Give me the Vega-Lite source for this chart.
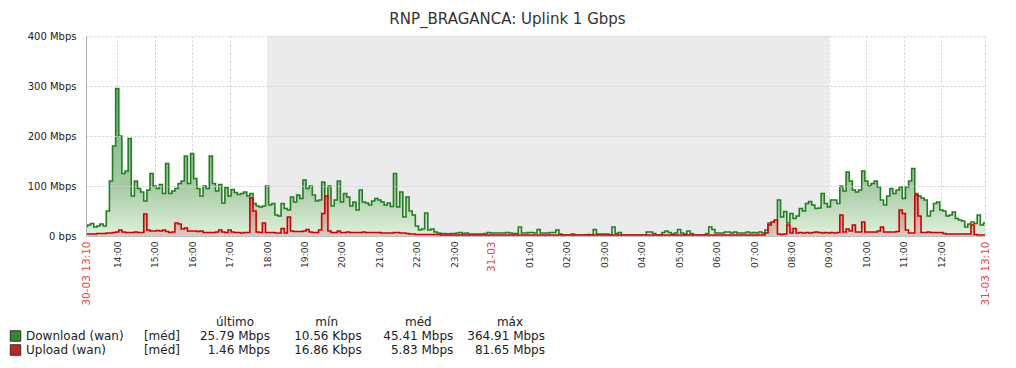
{
  "$schema": "https://vega.github.io/schema/vega-lite/v6.json",
  "width": 899,
  "height": 200,
  "autosize": {"type": "none"},
  "padding": {"left": 86, "top": 36, "right": 31, "bottom": 132},
  "background": "white",
  "title": {"text": "RNP_BRAGANCA: Uplink 1 Gbps", "fontSize": 15, "font": "DejaVu Sans", "fontWeight": "normal", "color": "#333333", "anchor": "middle", "frame": "group", "dx": -28, "offset": 4},
  "config": {
    "font": "DejaVu Sans",
    "view": {"stroke": null},
    "axisX": {"labelOverlap": false, "labelFlush": false, "labelBound": false, "labelAngle": 270, "labelPadding": 5, "ticks": false, "title": null, "domainColor": "#a9b2b8", "gridDash": [2, 2], "zindex": 1, "tickCount": 60}
  },
  "resolve": {"scale": {"x": "independent", "y": "independent", "color": "independent"}, "axis": {"x": "independent", "y": "independent"}},
  "layer": [
    {
      "layer": [
        {
          "data": {"values": [{"inicio": "2023-03-30 18:00", "fim": "2023-03-31 09:00"}], "format": {"parse": {"inicio": "utc:'%Y-%m-%d %H:%M'", "fim": "utc:'%Y-%m-%d %H:%M'"}}},
          "mark": {"type": "rect", "color": "#ebebeb"},
          "encoding": {
            "x": {"field": "inicio", "type": "temporal", "scale": {"type": "utc", "domain": [{"year": 2023, "month": 3, "date": 30, "hours": 13, "minutes": 10, "utc": true}, {"year": 2023, "month": 3, "date": 31, "hours": 13, "minutes": 10, "utc": true}], "nice": false}},
            "x2": {"field": "fim"}
          }
        },
        {
          "data": {
            "format": {"parse": {"t": "utc:'%Y-%m-%d %H:%M'"}},
            "values": [
              {"t":"2023-03-30 13:10","d":19,"u":4},{"t":"2023-03-30 13:15","d":22,"u":4},{"t":"2023-03-30 13:20","d":25,"u":4},{"t":"2023-03-30 13:25","d":18,"u":4},{"t":"2023-03-30 13:30","d":20,"u":5},{"t":"2023-03-30 13:35","d":24,"u":5},{"t":"2023-03-30 13:40","d":20,"u":5},{"t":"2023-03-30 13:45","d":50,"u":6},{"t":"2023-03-30 13:50","d":110,"u":6},{"t":"2023-03-30 13:55","d":180,"u":7},
              {"t":"2023-03-30 14:00","d":295,"u":8},{"t":"2023-03-30 14:05","d":200,"u":12},{"t":"2023-03-30 14:10","d":125,"u":8},{"t":"2023-03-30 14:15","d":130,"u":7},{"t":"2023-03-30 14:20","d":195,"u":7},{"t":"2023-03-30 14:25","d":80,"u":7},{"t":"2023-03-30 14:30","d":110,"u":8},{"t":"2023-03-30 14:35","d":95,"u":7},{"t":"2023-03-30 14:40","d":88,"u":7},{"t":"2023-03-30 14:45","d":70,"u":44},{"t":"2023-03-30 14:50","d":92,"u":12},{"t":"2023-03-30 14:55","d":125,"u":10},
              {"t":"2023-03-30 15:00","d":100,"u":10},{"t":"2023-03-30 15:05","d":95,"u":11},{"t":"2023-03-30 15:10","d":103,"u":10},{"t":"2023-03-30 15:15","d":85,"u":12},{"t":"2023-03-30 15:20","d":145,"u":9},{"t":"2023-03-30 15:25","d":85,"u":7},{"t":"2023-03-30 15:30","d":90,"u":8},{"t":"2023-03-30 15:35","d":95,"u":26},{"t":"2023-03-30 15:40","d":105,"u":24},{"t":"2023-03-30 15:45","d":110,"u":14},{"t":"2023-03-30 15:50","d":160,"u":16},{"t":"2023-03-30 15:55","d":105,"u":10},
              {"t":"2023-03-30 16:00","d":165,"u":10},{"t":"2023-03-30 16:05","d":115,"u":10},{"t":"2023-03-30 16:10","d":95,"u":9},{"t":"2023-03-30 16:15","d":80,"u":10},{"t":"2023-03-30 16:20","d":100,"u":7},{"t":"2023-03-30 16:25","d":95,"u":7},{"t":"2023-03-30 16:30","d":160,"u":7},{"t":"2023-03-30 16:35","d":105,"u":7},{"t":"2023-03-30 16:40","d":90,"u":8},{"t":"2023-03-30 16:45","d":103,"u":12},{"t":"2023-03-30 16:50","d":66,"u":8},{"t":"2023-03-30 16:55","d":97,"u":7},
              {"t":"2023-03-30 17:00","d":80,"u":12},{"t":"2023-03-30 17:05","d":93,"u":8},{"t":"2023-03-30 17:10","d":87,"u":7},{"t":"2023-03-30 17:15","d":83,"u":7},{"t":"2023-03-30 17:20","d":85,"u":6},{"t":"2023-03-30 17:25","d":88,"u":7},{"t":"2023-03-30 17:30","d":80,"u":7},{"t":"2023-03-30 17:35","d":85,"u":76},{"t":"2023-03-30 17:40","d":65,"u":50},{"t":"2023-03-30 17:45","d":60,"u":8},{"t":"2023-03-30 17:50","d":58,"u":7},{"t":"2023-03-30 17:55","d":60,"u":26},
              {"t":"2023-03-30 18:00","d":100,"u":7},{"t":"2023-03-30 18:05","d":62,"u":7},{"t":"2023-03-30 18:10","d":65,"u":7},{"t":"2023-03-30 18:15","d":42,"u":6},{"t":"2023-03-30 18:20","d":40,"u":6},{"t":"2023-03-30 18:25","d":65,"u":15},{"t":"2023-03-30 18:30","d":55,"u":6},{"t":"2023-03-30 18:35","d":52,"u":38},{"t":"2023-03-30 18:40","d":78,"u":10},{"t":"2023-03-30 18:45","d":68,"u":9},{"t":"2023-03-30 18:50","d":82,"u":9},{"t":"2023-03-30 18:55","d":75,"u":9},
              {"t":"2023-03-30 19:00","d":112,"u":10},{"t":"2023-03-30 19:05","d":95,"u":13},{"t":"2023-03-30 19:10","d":100,"u":8},{"t":"2023-03-30 19:15","d":82,"u":7},{"t":"2023-03-30 19:20","d":70,"u":7},{"t":"2023-03-30 19:25","d":72,"u":12},{"t":"2023-03-30 19:30","d":108,"u":45},{"t":"2023-03-30 19:35","d":75,"u":80},{"t":"2023-03-30 19:40","d":100,"u":10},{"t":"2023-03-30 19:45","d":60,"u":7},{"t":"2023-03-30 19:50","d":72,"u":7},{"t":"2023-03-30 19:55","d":110,"u":10},
              {"t":"2023-03-30 20:00","d":68,"u":7},{"t":"2023-03-30 20:05","d":85,"u":7},{"t":"2023-03-30 20:10","d":78,"u":8},{"t":"2023-03-30 20:15","d":60,"u":7},{"t":"2023-03-30 20:20","d":68,"u":7},{"t":"2023-03-30 20:25","d":52,"u":7},{"t":"2023-03-30 20:30","d":92,"u":7},{"t":"2023-03-30 20:35","d":68,"u":8},{"t":"2023-03-30 20:40","d":66,"u":7},{"t":"2023-03-30 20:45","d":62,"u":7},{"t":"2023-03-30 20:50","d":70,"u":7},{"t":"2023-03-30 20:55","d":75,"u":7},
              {"t":"2023-03-30 21:00","d":72,"u":7},{"t":"2023-03-30 21:05","d":68,"u":6},{"t":"2023-03-30 21:10","d":62,"u":6},{"t":"2023-03-30 21:15","d":66,"u":6},{"t":"2023-03-30 21:20","d":59,"u":6},{"t":"2023-03-30 21:25","d":125,"u":7},{"t":"2023-03-30 21:30","d":58,"u":7},{"t":"2023-03-30 21:35","d":88,"u":6},{"t":"2023-03-30 21:40","d":38,"u":6},{"t":"2023-03-30 21:45","d":78,"u":5},{"t":"2023-03-30 21:50","d":50,"u":4},{"t":"2023-03-30 21:55","d":42,"u":4},
              {"t":"2023-03-30 22:00","d":20,"u":3},{"t":"2023-03-30 22:05","d":12,"u":3},{"t":"2023-03-30 22:10","d":14,"u":3},{"t":"2023-03-30 22:15","d":46,"u":3},{"t":"2023-03-30 22:20","d":12,"u":3},{"t":"2023-03-30 22:25","d":14,"u":3},{"t":"2023-03-30 22:30","d":8,"u":3},{"t":"2023-03-30 22:35","d":6,"u":3},{"t":"2023-03-30 22:40","d":5,"u":2},{"t":"2023-03-30 22:45","d":5,"u":2},{"t":"2023-03-30 22:50","d":4,"u":2},{"t":"2023-03-30 22:55","d":5,"u":2},
              {"t":"2023-03-30 23:00","d":5,"u":2},{"t":"2023-03-30 23:05","d":6,"u":2},{"t":"2023-03-30 23:10","d":7,"u":2},{"t":"2023-03-30 23:15","d":5,"u":2},{"t":"2023-03-30 23:20","d":6,"u":2},{"t":"2023-03-30 23:25","d":4,"u":2},{"t":"2023-03-30 23:30","d":4,"u":2},{"t":"2023-03-30 23:35","d":4,"u":2},{"t":"2023-03-30 23:40","d":4,"u":2},{"t":"2023-03-30 23:45","d":4,"u":2},{"t":"2023-03-30 23:50","d":5,"u":2},{"t":"2023-03-30 23:55","d":7,"u":2},
              {"t":"2023-03-31 00:00","d":6,"u":2},{"t":"2023-03-31 00:05","d":6,"u":2},{"t":"2023-03-31 00:10","d":6,"u":2},{"t":"2023-03-31 00:15","d":6,"u":2},{"t":"2023-03-31 00:20","d":6,"u":2},{"t":"2023-03-31 00:25","d":7,"u":2},{"t":"2023-03-31 00:30","d":6,"u":2},{"t":"2023-03-31 00:35","d":5,"u":2},{"t":"2023-03-31 00:40","d":5,"u":2},{"t":"2023-03-31 00:45","d":18,"u":2},{"t":"2023-03-31 00:50","d":6,"u":2},{"t":"2023-03-31 00:55","d":6,"u":2},
              {"t":"2023-03-31 01:00","d":7,"u":2},{"t":"2023-03-31 01:05","d":7,"u":2},{"t":"2023-03-31 01:10","d":6,"u":2},{"t":"2023-03-31 01:15","d":13,"u":2},{"t":"2023-03-31 01:20","d":6,"u":2},{"t":"2023-03-31 01:25","d":6,"u":2},{"t":"2023-03-31 01:30","d":6,"u":2},{"t":"2023-03-31 01:35","d":7,"u":2},{"t":"2023-03-31 01:40","d":7,"u":2},{"t":"2023-03-31 01:45","d":12,"u":2},{"t":"2023-03-31 01:50","d":4,"u":2},{"t":"2023-03-31 01:55","d":2,"u":2},
              {"t":"2023-03-31 02:00","d":2,"u":2},{"t":"2023-03-31 02:05","d":2,"u":2},{"t":"2023-03-31 02:10","d":4,"u":2},{"t":"2023-03-31 02:15","d":2,"u":2},{"t":"2023-03-31 02:20","d":2,"u":2},{"t":"2023-03-31 02:25","d":2,"u":2},{"t":"2023-03-31 02:30","d":2,"u":2},{"t":"2023-03-31 02:35","d":3,"u":2},{"t":"2023-03-31 02:40","d":2,"u":2},{"t":"2023-03-31 02:45","d":13,"u":2},{"t":"2023-03-31 02:50","d":4,"u":2},{"t":"2023-03-31 02:55","d":4,"u":2},
              {"t":"2023-03-31 03:00","d":4,"u":2},{"t":"2023-03-31 03:05","d":4,"u":2},{"t":"2023-03-31 03:10","d":2,"u":2},{"t":"2023-03-31 03:15","d":18,"u":2},{"t":"2023-03-31 03:20","d":5,"u":2},{"t":"2023-03-31 03:25","d":7,"u":2},{"t":"2023-03-31 03:30","d":2,"u":2},{"t":"2023-03-31 03:35","d":2,"u":2},{"t":"2023-03-31 03:40","d":2,"u":2},{"t":"2023-03-31 03:45","d":2,"u":2},{"t":"2023-03-31 03:50","d":2,"u":2},{"t":"2023-03-31 03:55","d":2,"u":2},
              {"t":"2023-03-31 04:00","d":2,"u":2},{"t":"2023-03-31 04:05","d":2,"u":2},{"t":"2023-03-31 04:10","d":8,"u":2},{"t":"2023-03-31 04:15","d":8,"u":2},{"t":"2023-03-31 04:20","d":5,"u":2},{"t":"2023-03-31 04:25","d":2,"u":2},{"t":"2023-03-31 04:30","d":2,"u":2},{"t":"2023-03-31 04:35","d":7,"u":2},{"t":"2023-03-31 04:40","d":10,"u":2},{"t":"2023-03-31 04:45","d":7,"u":2},{"t":"2023-03-31 04:50","d":4,"u":2},{"t":"2023-03-31 04:55","d":6,"u":2},
              {"t":"2023-03-31 05:00","d":13,"u":2},{"t":"2023-03-31 05:05","d":6,"u":2},{"t":"2023-03-31 05:10","d":4,"u":2},{"t":"2023-03-31 05:15","d":10,"u":2},{"t":"2023-03-31 05:20","d":5,"u":2},{"t":"2023-03-31 05:25","d":2,"u":2},{"t":"2023-03-31 05:30","d":2,"u":2},{"t":"2023-03-31 05:35","d":2,"u":2},{"t":"2023-03-31 05:40","d":2,"u":2},{"t":"2023-03-31 05:45","d":5,"u":2},{"t":"2023-03-31 05:50","d":18,"u":2},{"t":"2023-03-31 05:55","d":13,"u":2},
              {"t":"2023-03-31 06:00","d":6,"u":2},{"t":"2023-03-31 06:05","d":6,"u":2},{"t":"2023-03-31 06:10","d":6,"u":2},{"t":"2023-03-31 06:15","d":8,"u":2},{"t":"2023-03-31 06:20","d":8,"u":2},{"t":"2023-03-31 06:25","d":6,"u":2},{"t":"2023-03-31 06:30","d":8,"u":2},{"t":"2023-03-31 06:35","d":6,"u":2},{"t":"2023-03-31 06:40","d":6,"u":2},{"t":"2023-03-31 06:45","d":6,"u":2},{"t":"2023-03-31 06:50","d":8,"u":2},{"t":"2023-03-31 06:55","d":6,"u":2},
              {"t":"2023-03-31 07:00","d":7,"u":2},{"t":"2023-03-31 07:05","d":6,"u":2},{"t":"2023-03-31 07:10","d":8,"u":2},{"t":"2023-03-31 07:15","d":6,"u":2},{"t":"2023-03-31 07:20","d":12,"u":6},{"t":"2023-03-31 07:25","d":26,"u":22},{"t":"2023-03-31 07:30","d":22,"u":28},{"t":"2023-03-31 07:35","d":30,"u":32},{"t":"2023-03-31 07:40","d":72,"u":4},{"t":"2023-03-31 07:45","d":38,"u":3},{"t":"2023-03-31 07:50","d":49,"u":4},{"t":"2023-03-31 07:55","d":26,"u":22},
              {"t":"2023-03-31 08:00","d":45,"u":6},{"t":"2023-03-31 08:05","d":35,"u":15},{"t":"2023-03-31 08:10","d":40,"u":6},{"t":"2023-03-31 08:15","d":55,"u":7},{"t":"2023-03-31 08:20","d":50,"u":6},{"t":"2023-03-31 08:25","d":65,"u":7},{"t":"2023-03-31 08:30","d":69,"u":6},{"t":"2023-03-31 08:35","d":62,"u":7},{"t":"2023-03-31 08:40","d":55,"u":8},{"t":"2023-03-31 08:45","d":56,"u":7},{"t":"2023-03-31 08:50","d":85,"u":6},{"t":"2023-03-31 08:55","d":65,"u":7},
              {"t":"2023-03-31 09:00","d":58,"u":6},{"t":"2023-03-31 09:05","d":72,"u":7},{"t":"2023-03-31 09:10","d":72,"u":6},{"t":"2023-03-31 09:15","d":65,"u":7},{"t":"2023-03-31 09:20","d":100,"u":42},{"t":"2023-03-31 09:25","d":90,"u":8},{"t":"2023-03-31 09:30","d":128,"u":14},{"t":"2023-03-31 09:35","d":110,"u":10},{"t":"2023-03-31 09:40","d":92,"u":22},{"t":"2023-03-31 09:45","d":88,"u":8},{"t":"2023-03-31 09:50","d":92,"u":8},{"t":"2023-03-31 09:55","d":130,"u":28},
              {"t":"2023-03-31 10:00","d":110,"u":8},{"t":"2023-03-31 10:05","d":100,"u":8},{"t":"2023-03-31 10:10","d":105,"u":8},{"t":"2023-03-31 10:15","d":110,"u":8},{"t":"2023-03-31 10:20","d":98,"u":10},{"t":"2023-03-31 10:25","d":72,"u":18},{"t":"2023-03-31 10:30","d":62,"u":8},{"t":"2023-03-31 10:35","d":80,"u":8},{"t":"2023-03-31 10:40","d":95,"u":8},{"t":"2023-03-31 10:45","d":85,"u":8},{"t":"2023-03-31 10:50","d":92,"u":9},{"t":"2023-03-31 10:55","d":98,"u":52},
              {"t":"2023-03-31 11:00","d":75,"u":45},{"t":"2023-03-31 11:05","d":98,"u":12},{"t":"2023-03-31 11:10","d":110,"u":6},{"t":"2023-03-31 11:15","d":135,"u":6},{"t":"2023-03-31 11:20","d":85,"u":82},{"t":"2023-03-31 11:25","d":80,"u":40},{"t":"2023-03-31 11:30","d":76,"u":7},{"t":"2023-03-31 11:35","d":72,"u":7},{"t":"2023-03-31 11:40","d":40,"u":8},{"t":"2023-03-31 11:45","d":50,"u":7},{"t":"2023-03-31 11:50","d":65,"u":7},{"t":"2023-03-31 11:55","d":68,"u":7},
              {"t":"2023-03-31 12:00","d":52,"u":7},{"t":"2023-03-31 12:05","d":50,"u":5},{"t":"2023-03-31 12:10","d":40,"u":4},{"t":"2023-03-31 12:15","d":42,"u":4},{"t":"2023-03-31 12:20","d":48,"u":4},{"t":"2023-03-31 12:25","d":35,"u":4},{"t":"2023-03-31 12:30","d":32,"u":4},{"t":"2023-03-31 12:35","d":30,"u":4},{"t":"2023-03-31 12:40","d":18,"u":4},{"t":"2023-03-31 12:45","d":24,"u":4},{"t":"2023-03-31 12:50","d":28,"u":22},{"t":"2023-03-31 12:55","d":25,"u":3},
              {"t":"2023-03-31 13:00","d":42,"u":2},{"t":"2023-03-31 13:05","d":22,"u":2},{"t":"2023-03-31 13:10","d":26,"u":2}
            ]
          },
          "encoding": {
            "x": {"field": "t", "type": "temporal",
              "axis": {
                "tickCount": 60,
                "values": [
                  {"year": 2023, "month": 3, "date": 30, "hours": 13, "minutes": 10, "utc": true},
                  {"year": 2023, "month": 3, "date": 30, "hours": 14, "utc": true},
                  {"year": 2023, "month": 3, "date": 30, "hours": 15, "utc": true},
                  {"year": 2023, "month": 3, "date": 30, "hours": 16, "utc": true},
                  {"year": 2023, "month": 3, "date": 30, "hours": 17, "utc": true},
                  {"year": 2023, "month": 3, "date": 30, "hours": 18, "utc": true},
                  {"year": 2023, "month": 3, "date": 30, "hours": 19, "utc": true},
                  {"year": 2023, "month": 3, "date": 30, "hours": 20, "utc": true},
                  {"year": 2023, "month": 3, "date": 30, "hours": 21, "utc": true},
                  {"year": 2023, "month": 3, "date": 30, "hours": 22, "utc": true},
                  {"year": 2023, "month": 3, "date": 30, "hours": 23, "utc": true},
                  {"year": 2023, "month": 3, "date": 31, "hours": 0, "utc": true},
                  {"year": 2023, "month": 3, "date": 31, "hours": 1, "utc": true},
                  {"year": 2023, "month": 3, "date": 31, "hours": 2, "utc": true},
                  {"year": 2023, "month": 3, "date": 31, "hours": 3, "utc": true},
                  {"year": 2023, "month": 3, "date": 31, "hours": 4, "utc": true},
                  {"year": 2023, "month": 3, "date": 31, "hours": 5, "utc": true},
                  {"year": 2023, "month": 3, "date": 31, "hours": 6, "utc": true},
                  {"year": 2023, "month": 3, "date": 31, "hours": 7, "utc": true},
                  {"year": 2023, "month": 3, "date": 31, "hours": 8, "utc": true},
                  {"year": 2023, "month": 3, "date": 31, "hours": 9, "utc": true},
                  {"year": 2023, "month": 3, "date": 31, "hours": 10, "utc": true},
                  {"year": 2023, "month": 3, "date": 31, "hours": 11, "utc": true},
                  {"year": 2023, "month": 3, "date": 31, "hours": 12, "utc": true},
                  {"year": 2023, "month": 3, "date": 31, "hours": 13, "minutes": 10, "utc": true}
                ],
                "labelExpr": "utcminutes(datum.value) != 0 ? utcFormat(datum.value, '%d-%m %H:%M') : (utchours(datum.value) == 0 ? utcFormat(datum.value, '%d-%m') : utcFormat(datum.value, '%H:%M'))",
                "labelOverlap": false,
                "labelFlush": false,
                "labelFontSize": {"condition": {"test": "utcminutes(datum.value) != 0 || utchours(datum.value) == 0", "value": 10.5}, "value": 9.2},
                "labelFont": "DejaVu Sans",
                "labelColor": {"condition": {"test": "utcminutes(datum.value) != 0 || utchours(datum.value) == 0", "value": "#ee4444"}, "value": "#333333"},
                "grid": true,
                "gridColor": {"condition": {"test": "utchours(datum.value) == 0 && utcminutes(datum.value) == 0", "value": "#9ea7ac"}, "value": "#cad2d7"}
              }
            }
          },
          "layer": [
            {
              "mark": {"type": "area", "interpolate": "step", "color": {"gradient": "linear", "x1": 0, "y1": 0, "x2": 0, "y2": 1, "stops": [{"offset": 0, "color": "#74b174"}, {"offset": 0.66, "color": "#a6cba4"}, {"offset": 1, "color": "#e0f0dc"}]}},
              "encoding": {
                "y": {"field": "d", "type": "quantitative", "scale": {"domain": [0, 400], "nice": false},
                  "axis": {"values": [0, 100, 200, 300, 400], "labelExpr": "datum.value == 0 ? '0 bps' : datum.value + ' Mbps'", "labelFontSize": 10, "labelFont": "DejaVu Sans", "labelColor": "#222222", "labelPadding": 10, "ticks": false, "title": null, "domainColor": "#a9b2b8", "grid": true, "gridDash": [2, 2], "gridColor": "#cad2d7", "zindex": 1}}
              }
            },
            {
              "mark": {"type": "line", "interpolate": "step", "color": "#1f7f1f", "strokeWidth": 1.6},
              "encoding": {"y": {"field": "d", "type": "quantitative"}}
            },
            {
              "mark": {"type": "area", "interpolate": "step", "color": {"gradient": "linear", "x1": 0, "y1": 0, "x2": 0, "y2": 1, "stops": [{"offset": 0, "color": "#c47e72"}, {"offset": 0.6, "color": "#d4ada0"}, {"offset": 1, "color": "#dec9bd"}]}},
              "encoding": {"y": {"field": "u", "type": "quantitative"}}
            },
            {
              "mark": {"type": "line", "interpolate": "step", "color": "#cc0000", "strokeWidth": 1.6},
              "encoding": {"y": {"field": "u", "type": "quantitative"}}
            }
          ]
        }
      ]
    },
    {
      "data": {"values": [
        {"serie": "Download (wan)", "funcao": "[méd]", "último": "25.79 Mbps", "mín": "10.56 Kbps", "méd": "45.41 Mbps", "máx": "364.91 Mbps"},
        {"serie": "Upload (wan)", "funcao": "[méd]", "último": "1.46 Mbps", "mín": "16.86 Kbps", "méd": "5.83 Mbps", "máx": "81.65 Mbps"}
      ]},
      "encoding": {
        "y": {"field": "serie", "type": "nominal", "scale": {"type": "point", "domain": ["Download (wan)", "Upload (wan)"], "range": [300, 314], "padding": 0}, "axis": null}
      },
      "layer": [
        {
          "mark": {"type": "point", "shape": "square", "filled": true, "size": 110, "stroke": "#333333", "strokeWidth": 1, "opacity": 1, "xOffset": -254.5},
          "encoding": {
            "x": {"datum": "último", "type": "nominal", "scale": {"type": "point", "domain": ["último", "mín", "méd", "máx"], "range": [184, 459], "padding": 0}, "axis": null},
            "color": {"field": "serie", "type": "nominal", "scale": {"domain": ["Download (wan)", "Upload (wan)"], "range": ["#2e8b2e", "#c62020"]}, "legend": null}
          }
        },
        {
          "mark": {"type": "text", "align": "left", "baseline": "middle", "dx": -244, "fontSize": 12, "font": "DejaVu Sans", "color": "#222222"},
          "encoding": {
            "x": {"datum": "último", "type": "nominal", "axis": null},
            "text": {"field": "serie"}
          }
        },
        {
          "mark": {"type": "text", "align": "right", "baseline": "middle", "dx": -90, "fontSize": 12, "font": "DejaVu Sans", "color": "#222222"},
          "encoding": {
            "x": {"datum": "último", "type": "nominal", "axis": null},
            "text": {"field": "funcao"}
          }
        },
        {
          "transform": [{"fold": ["último", "mín", "méd", "máx"], "as": ["coluna", "valor"]}],
          "mark": {"type": "text", "align": "right", "baseline": "middle", "fontSize": 12, "font": "DejaVu Sans", "color": "#222222"},
          "encoding": {
            "x": {"field": "coluna", "type": "nominal", "axis": null},
            "text": {"field": "valor"}
          }
        },
        {
          "transform": [{"fold": ["último", "mín", "méd", "máx"], "as": ["coluna", "valor"]}, {"filter": "datum.serie == 'Download (wan)'"}],
          "mark": {"type": "text", "align": "center", "baseline": "middle", "dx": -35, "dy": -14, "fontSize": 12, "font": "DejaVu Sans", "color": "#222222"},
          "encoding": {
            "x": {"field": "coluna", "type": "nominal", "axis": null},
            "text": {"field": "coluna"}
          }
        }
      ]
    }
  ]
}
